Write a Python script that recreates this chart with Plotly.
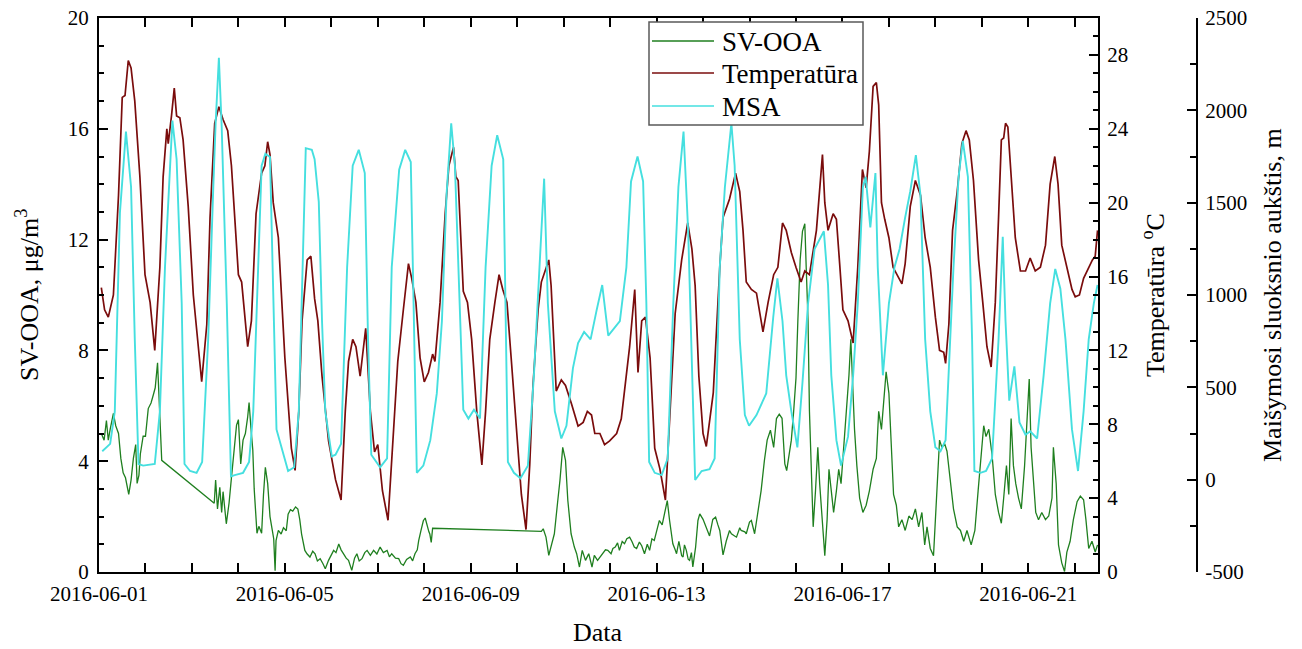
import numpy as np
import pandas as pd
import plotly.graph_objects as go

START = pd.Timestamp("2016-06-01 00:00")

# ---- Temperatūra (°C): time offset in days from 2016-06-01, value ----
temp_days = [0.05, 0.12, 0.2, 0.31, 0.42, 0.5, 0.56, 0.63, 0.69, 0.77, 0.88, 0.99, 1.1, 1.2, 1.31, 1.38, 1.46, 1.49,
             1.56, 1.62, 1.67, 1.74, 1.81, 1.92, 2.03, 2.1, 2.21, 2.32, 2.39, 2.49, 2.58, 2.67, 2.77, 2.85, 3.0, 3.07,
             3.2, 3.28, 3.38, 3.5, 3.57, 3.63, 3.68, 3.75, 3.86, 4.0, 4.14, 4.22, 4.3, 4.37, 4.48, 4.56, 4.64, 4.71,
             4.8, 4.94, 5.09, 5.21, 5.3, 5.37, 5.46, 5.53, 5.62, 5.74, 5.84, 5.93, 6.0, 6.1, 6.22, 6.34, 6.43, 6.55,
             6.66, 6.73, 6.82, 6.91, 7.0, 7.09, 7.18, 7.23, 7.34, 7.45, 7.53, 7.63, 7.68, 7.73, 7.84, 7.93, 8.02, 8.13,
             8.24, 8.32, 8.41, 8.52, 8.61, 8.69, 8.78, 8.87, 8.98, 9.09, 9.19, 9.27, 9.34, 9.45, 9.52, 9.63, 9.68, 9.73,
             9.84, 9.95, 10.04, 10.17, 10.31, 10.42, 10.51, 10.6, 10.67, 10.78, 10.88, 10.99, 11.14, 11.24, 11.35, 11.42,
             11.53, 11.6, 11.68, 11.76, 11.86, 11.96, 12.07, 12.19, 12.29, 12.4, 12.54, 12.67, 12.76, 12.83, 12.91, 13.0,
             13.07, 13.22, 13.36, 13.43, 13.57, 13.7, 13.79, 13.86, 13.93, 14.04, 14.15, 14.29, 14.4, 14.52, 14.61,
             14.71, 14.79, 14.9, 15.0, 15.11, 15.19, 15.29, 15.44, 15.57, 15.62, 15.69, 15.8, 15.87, 15.94, 16.01,
             16.12, 16.23, 16.33, 16.43, 16.51, 16.58, 16.66, 16.73, 16.78, 16.84, 16.91, 17.0, 17.09, 17.2, 17.28,
             17.35, 17.46, 17.57, 17.68, 17.78, 17.89, 18.0, 18.09, 18.18, 18.22, 18.29, 18.37, 18.47, 18.57, 18.66,
             18.73, 18.82, 18.93, 19.02, 19.11, 19.2, 19.29, 19.36, 19.42, 19.47, 19.51, 19.56, 19.63, 19.72, 19.83,
             19.94, 20.04, 20.15, 20.26, 20.37, 20.47, 20.57, 20.64, 20.72, 20.83, 20.94, 21.01, 21.1, 21.19, 21.3,
             21.38, 21.44, 21.49]
temp_vals = [15.4, 14.2, 13.8, 15.0, 20.4, 25.7, 25.8, 27.7, 27.3, 25.5, 21.4, 16.1, 14.6, 12.0, 16.5, 21.4, 24.0, 23.2,
             24.7, 26.2, 24.7, 24.6, 23.4, 19.8, 15.0, 13.0, 10.3, 13.4, 19.2, 24.3, 25.2, 24.5, 23.9, 22.0, 16.1, 15.7,
             12.2, 13.6, 19.4, 21.6, 22.0, 23.3, 22.6, 20.0, 18.1, 11.6, 6.7, 5.5, 8.7, 13.6, 16.9, 17.1, 14.8, 13.6,
             10.6, 7.1, 5.0, 3.9, 8.7, 11.4, 12.6, 12.2, 10.6, 13.2, 8.7, 6.5, 6.9, 4.4, 2.8, 7.7, 11.4, 14.2,
             16.7, 15.9, 14.6, 11.6, 10.3, 10.8, 11.8, 11.4, 14.6, 19.4, 22.0, 23.0, 21.4, 21.2, 15.2, 14.6, 12.6, 8.7,
             5.8, 8.7, 12.6, 14.6, 16.1, 15.3, 14.6, 11.6, 7.7, 4.2, 2.3, 5.8, 10.1, 14.2, 15.7, 16.5, 16.9, 15.5,
             9.8, 10.4, 10.1, 9.1, 7.9, 8.1, 8.7, 8.5, 7.5, 7.5, 6.9, 7.1, 7.5, 8.3, 10.6, 12.2,
             15.3, 10.8, 13.6, 13.8, 11.6, 6.7, 5.6, 3.9, 8.7, 14.0, 16.9, 18.9, 17.5, 15.5, 10.6, 7.5,
             6.8, 9.7, 16.5, 19.2, 20.2, 21.6, 20.6, 18.5, 15.7, 15.3, 15.1, 13.0, 14.6, 16.1, 16.5,
             18.9, 18.5, 17.3, 16.5, 15.7, 16.3, 16.1, 18.5, 22.6, 20.0, 18.5, 19.4, 19.1, 16.7, 14.2,
             13.6, 12.4, 16.5, 21.8, 20.8, 22.8, 26.3, 26.5, 25.3, 20.0, 19.1, 18.1, 16.5, 16.0, 15.6,
             16.7, 19.8, 21.2, 20.4, 18.1, 16.5, 13.8, 12.0, 11.9, 11.3, 13.4, 18.5, 20.6, 23.2, 23.9,
             23.4, 21.2, 16.9, 14.6, 12.2, 11.1, 14.6, 19.2, 23.4, 23.5, 24.3, 24.1, 21.4, 18.1, 16.3,
             16.3, 17.0, 16.3, 16.5, 17.7, 21.0, 22.5, 21.0, 17.7, 16.5, 15.3, 14.9, 15.0, 15.9, 16.5,
             16.9, 17.1, 18.5]

# ---- MSA (m) ----
msa_days = [0.07, 0.24, 0.34, 0.45, 0.58, 0.69, 0.77, 0.85, 0.95, 1.2, 1.31, 1.42, 1.58, 1.67, 1.78, 1.84, 1.96, 2.1,
            2.22, 2.35, 2.46, 2.51, 2.58, 2.64, 2.75, 2.84, 2.92, 3.1, 3.23, 3.32, 3.5, 3.58, 3.68, 3.82, 4.07, 4.2,
            4.3, 4.45, 4.58, 4.64, 4.73, 4.8, 4.87, 5.01, 5.09, 5.21, 5.34, 5.46, 5.59, 5.72, 5.79, 5.86, 6.05, 6.2,
            6.3, 6.46, 6.59, 6.71, 6.77, 6.84, 6.98, 7.13, 7.27, 7.38, 7.48, 7.58, 7.66, 7.77, 7.84, 7.95, 8.07, 8.2,
            8.32, 8.45, 8.57, 8.7, 8.8, 8.93, 9.07, 9.23, 9.36, 9.48, 9.58, 9.66, 9.81, 9.95, 10.06, 10.2, 10.31,
            10.44, 10.58, 10.71, 10.83, 10.96, 11.09, 11.21, 11.35, 11.45, 11.59, 11.71, 11.78, 11.84, 11.96, 12.11,
            12.24, 12.36, 12.47, 12.58, 12.68, 12.76, 12.83, 12.97, 13.14, 13.25, 13.36, 13.47, 13.61, 13.68, 13.79,
            13.9, 13.99, 14.15, 14.36, 14.51, 14.6, 14.71, 14.79, 14.9, 15.03, 15.14, 15.26, 15.4, 15.6, 15.69,
            15.76, 15.87, 15.97, 16.12, 16.23, 16.33, 16.44, 16.5, 16.6, 16.71, 16.76, 16.87, 17.0, 17.12, 17.23,
            17.35, 17.46, 17.58, 17.68, 17.78, 17.89, 18.0, 18.11, 18.22, 18.39, 18.5, 18.59, 18.7, 18.79, 18.84,
            18.97, 19.09, 19.22, 19.36, 19.45, 19.51, 19.59, 19.7, 19.81, 19.94, 20.04, 20.19, 20.33, 20.47, 20.58,
            20.69, 20.8, 20.94, 21.07, 21.19, 21.3, 21.41, 21.49]
msa_vals = [154, 194, 370, 1444, 1885, 1585, 760, 85, 76, 85, 370, 1150, 1945, 1735, 955, 85, 47, 37,
            96, 760, 1585, 1930, 2285, 1915, 955, 18, 25, 37, 96, 370, 1700, 1765, 1747, 272, 47, 67,
            370, 1795, 1786, 1735, 1504, 858, 370, 126, 135, 194, 1150, 1700, 1786, 1660, 760, 135, 67, 115,
            1150, 1678, 1786, 1720, 955, 37, 76, 214, 467, 858, 1545, 1930, 1700, 955, 379, 331, 379, 331,
            1150, 1700, 1865, 1735, 96, 37, 8, 76, 565, 1150, 1630, 955, 370, 223, 292, 604, 740,
            800, 760, 918, 1054, 780, 819, 858, 1150, 1615, 1750, 1615, 955, 96, 37, 25,
            115, 955, 1585, 1885, 1345, 565, -2, 47, 57, 115, 1150, 1585, 1930, 1700, 760,
            350, 292, 350, 467, 878, 1090, 858, 565, 370, 175, 526, 955, 1249, 1345, 1054,
            565, 214, 76, 233, 565, 955, 1585, 1640, 1366, 1660, 1150, 565, 955, 1150, 1249,
            1420, 1562, 1757, 1540, 760, 370, 175, 154, 214, 1150, 1640, 1835, 1640, 760, 47,
            37, 47, 115, 760, 1315, 858, 428, 614, 310, 243, 262, 223, 565, 955, 1141,
            1034, 760, 272, 47, 370, 760, 955, 1054]

# ---- SV-OOA (µg/m3) ----
ooa_days = [0.05, 0.11, 0.16, 0.2, 0.24, 0.31, 0.36, 0.42, 0.47, 0.52, 0.57, 0.61, 0.64, 0.69, 0.74, 0.79, 0.82, 0.86,
            0.89, 0.95, 1.0, 1.06, 1.12, 1.17, 1.21, 1.26, 1.3, 1.35, 2.48, 2.51, 2.55, 2.6, 2.64, 2.67, 2.74, 2.8,
            2.85, 2.91, 2.96, 3.0, 3.05, 3.1, 3.15, 3.2, 3.23, 3.27, 3.31, 3.34, 3.4, 3.44, 3.5, 3.54, 3.58, 3.63,
            3.68, 3.73, 3.76, 3.79, 3.81, 3.86, 3.92, 3.97, 4.03, 4.07, 4.12, 4.17, 4.23, 4.28, 4.32, 4.36, 4.4, 4.43,
            4.48, 4.54, 4.6, 4.65, 4.7, 4.76, 4.82, 4.87, 4.94, 5.0, 5.05, 5.1, 5.16, 5.21, 5.26, 5.32, 5.37, 5.44,
            5.5, 5.55, 5.6, 5.66, 5.72, 5.77, 5.84, 5.91, 5.98, 6.05, 6.12, 6.2, 6.25, 6.3, 6.38, 6.45, 6.5, 6.55,
            6.62, 6.7, 6.75, 6.8, 6.85, 6.88, 6.93, 6.98, 7.02, 7.05, 7.1, 7.12, 7.15, 7.18, 9.52, 9.56, 9.62, 9.68,
            9.73, 9.8, 9.87, 9.92, 9.98, 10.04, 10.09, 10.16, 10.23, 10.28, 10.34, 10.4, 10.47, 10.54, 10.61, 10.66,
            10.73, 10.79, 10.84, 10.9, 10.95, 11.02, 11.06, 11.11, 11.16, 11.2, 11.26, 11.31, 11.36, 11.42, 11.47,
            11.52, 11.57, 11.63, 11.68, 11.74, 11.8, 11.85, 11.9, 11.95, 12.02, 12.06, 12.12, 12.17, 12.23, 12.28,
            12.32, 12.35, 12.4, 12.43, 12.48, 12.5, 12.54, 12.57, 12.6, 12.64, 12.68, 12.71, 12.75, 12.78, 12.84,
            12.89, 12.93, 13.0, 13.07, 13.14, 13.21, 13.27, 13.32, 13.36, 13.43, 13.5, 13.57, 13.61, 13.68, 13.72,
            13.79, 13.82, 13.9, 13.93, 14.0, 14.04, 14.11, 14.18, 14.25, 14.32, 14.38, 14.45, 14.52, 14.58, 14.64,
            14.7, 14.76, 14.8, 14.85, 14.9, 14.95, 15.0, 15.04, 15.09, 15.14, 15.19, 15.22, 15.26, 15.29, 15.33,
            15.37, 15.42, 15.47, 15.51, 15.57, 15.62, 15.67, 15.71, 15.76, 15.81, 15.87, 15.92, 15.97, 16.03, 16.08,
            16.14, 16.18, 16.21, 16.26, 16.31, 16.37, 16.44, 16.51, 16.58, 16.66, 16.73, 16.78, 16.84, 16.89, 16.94,
            17.0, 17.05, 17.1, 17.16, 17.21, 17.28, 17.35, 17.43, 17.5, 17.57, 17.64, 17.71, 17.77, 17.82, 17.89,
            17.96, 18.04, 18.09, 18.14, 18.2, 18.25, 18.32, 18.39, 18.47, 18.54, 18.61, 18.68, 18.77, 18.85, 18.92,
            18.99, 19.04, 19.09, 19.15, 19.22, 19.29, 19.36, 19.42, 19.47, 19.53, 19.58, 19.63, 19.68, 19.73, 19.79,
            19.85, 19.92, 19.97, 20.02, 20.06, 20.11, 20.16, 20.22, 20.29, 20.37, 20.44, 20.51, 20.54, 20.6, 20.65,
            20.72, 20.78, 20.83, 20.9, 20.97, 21.05, 21.12, 21.19, 21.24, 21.3, 21.37, 21.44, 21.49]
ooa_vals = [5.0, 4.76, 5.47, 4.76, 5.15, 5.73, 5.28, 5.0, 4.1, 3.58, 3.4, 3.0, 2.8, 3.32, 4.1, 4.6, 3.2, 3.5,
            4.26, 4.9, 4.9, 5.9, 6.1, 6.4, 6.65, 7.55, 6.2, 4.03, 2.48, 3.32, 2.28, 3.06, 2.15, 2.9, 1.74, 2.5,
            3.4, 4.5, 5.3, 5.5, 3.9, 4.76, 5.0, 5.6, 6.12, 5.2, 4.4, 3.0, 1.4, 1.65, 1.4, 2.8, 3.78, 3.2,
            2.0, 1.5, 1.2, 0.05, 1.13, 1.5, 1.37, 1.6, 1.49, 2.09, 2.25, 2.2, 2.35, 2.27, 1.9, 1.37, 1.0, 0.78,
            0.65, 0.54, 0.75, 0.66, 0.4, 0.48, 0.3, 0.12, 0.42, 0.6, 0.78, 0.7, 1.01, 0.8, 0.66, 0.5, 0.42, 0.06,
            0.5, 0.66, 0.4, 0.48, 0.7, 0.78, 0.6, 0.78, 0.65, 0.9, 0.7, 0.78, 0.55, 0.66, 0.5, 0.48, 0.3, 0.24,
            0.45, 0.54, 0.4, 0.66, 0.8, 1.13, 1.5, 1.85, 1.95, 1.73, 1.45, 1.37, 1.07, 1.58, 1.47, 1.56, 1.26, 0.6,
            0.9, 1.38, 2.52, 3.3, 4.5, 4.03, 2.58, 1.38, 0.9, 0.66, 0.18, 0.78, 0.42, 0.66, 0.18, 0.6,
            0.42, 0.55, 0.66, 0.8, 0.78, 0.66, 0.85, 0.9, 1.05, 0.78, 1.1, 1.02, 1.2, 1.26, 1.1,
            0.9, 0.85, 1.08, 0.95, 0.66, 1.0, 0.78, 1.2, 1.14, 1.6, 1.86, 1.7, 2.1, 2.58, 1.86,
            1.37, 1.02, 0.8, 0.66, 1.11, 0.9, 0.59, 0.54, 0.98, 0.78, 0.46, 0.42, 0.7, 0.18, 0.9,
            1.86, 2.1, 1.9, 1.62, 1.3, 1.9, 1.98, 1.7, 1.5, 0.62, 1.12, 1.5, 1.38, 1.3, 1.26,
            1.6, 1.5, 1.45, 1.38, 1.8, 1.86, 1.38, 2.1, 2.94, 4.02, 4.76, 5.12, 4.5, 5.54, 5.7,
            5.55, 3.9, 3.66, 4.3, 4.76, 5.8, 7.0, 9.05, 11.27, 12.3, 12.57, 11.0, 9.05, 5.8, 3.19,
            1.63, 2.93, 4.5, 3.19, 1.89, 0.59, 1.89, 3.71, 2.93, 2.15, 2.93, 3.71, 3.19, 4.5, 5.8,
            7.1, 8.4, 7.1, 5.15, 3.84, 2.67, 2.15, 2.41, 2.93, 3.71, 4.1, 5.8, 5.15, 6.32, 7.23,
            6.45, 4.5, 2.8, 2.41, 1.63, 1.89, 1.5, 2.02, 1.89, 2.28, 1.63, 2.15, 0.98, 1.63, 0.85,
            0.59, 3.19, 4.76, 4.5, 4.63, 4.36, 3.19, 2.28, 1.63, 1.5, 1.11, 1.5, 0.98, 1.5, 2.93,
            4.5, 5.28, 4.89, 5.15, 4.23, 2.8, 2.15, 1.76, 2.67, 3.84, 2.8, 5.54, 3.84, 3.19, 2.67,
            2.28, 3.84, 5.41, 6.97, 4.5, 3.19, 2.15, 1.89, 2.15, 1.89, 2.02, 2.67, 4.5, 3.19, 0.98,
            0.33, 0.02, 0.72, 1.11, 1.89, 2.54, 2.74, 2.61, 1.89, 0.85, 1.11, 0.72, 0.98]

series_names = ["SV-OOA", "Temperatūra", "MSA"]
series_colors = ["#1f7f1f", "#7a0c0c", "#45dfdf"]

# tick labels of the mixing-height axis (written with a plain hyphen, as in the original)
msa_tickvals = [-500, 0, 500, 1000, 1500, 2000, 2500]
msa_ticktext = ["-500", "0", "500", "1000", "1500", "2000", "2500"]

X_TICK_START = "2016-06-01"
X_END_DAYS = 21.5


def to_time(days):
    return START + pd.to_timedelta(np.array(days), unit="D")


FONT = "Liberation Serif, Times New Roman, serif"
DAY_MS = 86400000

# page body has an 8px margin: figure placed so that plot area sits at x 99..1197, y 18..572 on screen
OFF = 8
FIG_W, FIG_H = 1294, 641
PL, PR, PT, PB = 99, 1197, 18, 572          # on-screen plot-area edges
ML, MT = PL - OFF, PT - OFF
MR = FIG_W - (PR - OFF)
MB = FIG_H - (PB - OFF)
PW, PH = PR - PL, PB - PT


def px(X):
    return (X - PL) / PW


def py(Y):
    return (PB - Y) / PH


fig = go.Figure()
fig.add_trace(go.Scatter(x=to_time(ooa_days), y=ooa_vals, name=series_names[0], mode="lines",
                         line=dict(color=series_colors[0], width=1.3), yaxis="y"))
fig.add_trace(go.Scatter(x=to_time(temp_days), y=temp_vals, name=series_names[1], mode="lines",
                         line=dict(color=series_colors[1], width=1.7), yaxis="y2"))
fig.add_trace(go.Scatter(x=to_time(msa_days), y=msa_vals, name=series_names[2], mode="lines",
                         line=dict(color=series_colors[2], width=1.9), yaxis="y3"))

XD = px(1098)
axis_common = dict(showgrid=False, zeroline=False, showline=True, linecolor="black", linewidth=2,
                   ticks="inside", tickcolor="black", tickwidth=1.5, ticklen=9, automargin=False,
                   ticklabeloverflow="allow",
                   tickfont=dict(family=FONT, size=21, color="black"))

# manual legend box (drawn as shapes + text)
leg_x0, leg_x1, leg_y0, leg_y1 = 649, 863, 22, 125
row_y = [41, 73, 106]
shapes = [dict(type="rect", xref="paper", yref="paper", x0=px(leg_x0), x1=px(leg_x1),
               y0=py(leg_y1), y1=py(leg_y0), fillcolor="white", line=dict(color="#5a5a5a", width=1.5),
               layer="above")]
annotations = []
for name, col, ry in zip(series_names, series_colors, row_y):
    shapes.append(dict(type="line", xref="paper", yref="paper", x0=px(652), x1=px(714),
                       y0=py(ry), y1=py(ry), line=dict(color=col, width=1.6), layer="above"))
    annotations.append(dict(text=name, x=px(720), y=py(ry + 1), xref="paper", yref="paper",
                            showarrow=False, xanchor="left", yanchor="middle",
                            font=dict(family=FONT, size=27, color="black")))

title_font = dict(family=FONT, size=26, color="black")
annotations += [
    dict(text="SV-OOA, μg/m<sup>3</sup>", x=px(27), y=0.5, xref="paper", yref="paper",
         textangle=-90, showarrow=False, xanchor="center", yanchor="middle", font=title_font),
    dict(text="Temperatūra <sup>o</sup>C", x=px(1153), y=0.5, xref="paper", yref="paper",
         textangle=-90, showarrow=False, xanchor="center", yanchor="middle", font=title_font),
    dict(text="Maišymosi sluoksnio aukštis, m", x=px(1272), y=0.5, xref="paper", yref="paper",
         textangle=-90, showarrow=False, xanchor="center", yanchor="middle", font=title_font),
    dict(text="Data", x=px(598), y=py(632), xref="paper", yref="paper",
         showarrow=False, xanchor="center", yanchor="middle", font=title_font),
]

fig.update_layout(
    width=FIG_W, height=FIG_H,
    margin=dict(l=ML, r=MR, t=MT, b=MB),
    paper_bgcolor="white", plot_bgcolor="white",
    font=dict(family=FONT, color="black"),
    showlegend=False,
    xaxis=dict(domain=[0, XD], type="date",
               range=[START, START + pd.Timedelta(days=X_END_DAYS)],
               tick0=X_TICK_START, dtick=4 * DAY_MS, tickformat="%Y-%m-%d",
               mirror="allticks", ticklabelstandoff=2,
               minor=dict(ticks="inside", ticklen=5, dtick=DAY_MS, tickcolor="black", tickwidth=1.5),
               **axis_common),
    yaxis=dict(range=[0, 20], dtick=4, tick0=0, ticklabelstandoff=4,
               minor=dict(ticks="inside", ticklen=5, dtick=1, tickcolor="black", tickwidth=1.5),
               **axis_common),
    yaxis2=dict(range=[0, 30], dtick=4, tick0=0, overlaying="y", side="right", anchor="x",
                ticklabelstandoff=3,
                minor=dict(ticks="inside", ticklen=5, dtick=1, tickcolor="black", tickwidth=1.5),
                **axis_common),
    yaxis3=dict(range=[-500, 2500], tickmode="array", tickvals=msa_tickvals, ticktext=msa_ticktext,
                overlaying="y", side="right",
                anchor="free", position=1.0, ticklabelstandoff=3,
                minor=dict(ticks="inside", ticklen=6, dtick=250, tick0=-500, tickcolor="black", tickwidth=1.5),
                **axis_common),
    shapes=shapes,
    annotations=annotations,
)

fig.write_html("out.html")
